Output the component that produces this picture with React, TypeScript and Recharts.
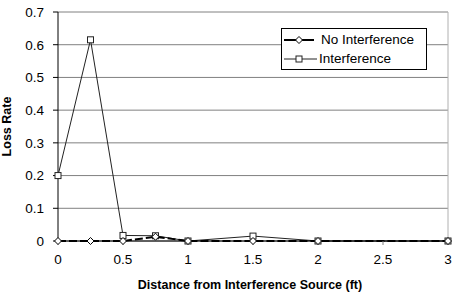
import { CartesianGrid, Label, Line, LineChart, ReferenceLine, XAxis, YAxis } from "recharts";

const distances = [0, 0.25, 0.5, 0.75, 1, 1.5, 2, 3];
const noInterference = [0, 0, 0, 0.013, 0, 0, 0, 0];
const interference = [0.2, 0.615, 0.017, 0.016, 0, 0.015, 0, 0];
const xTicks = [0, 0.5, 1, 1.5, 2, 2.5, 3];
const yTicks = [0, 0.1, 0.2, 0.3, 0.4, 0.5, 0.6, 0.7];

const data = distances.map((x, i) => ({ x, none: noInterference[i], intf: interference[i] }));

const font = "Arial, 'Liberation Sans', sans-serif";

function Diamond({ cx, cy }: { cx?: number; cy?: number }) {
  if (cx == null || cy == null) return null;
  const r = 3.5;
  return (
    <path
      d={`M${cx},${cy - r}L${cx + r},${cy}L${cx},${cy + r}L${cx - r},${cy}Z`}
      fill="#fff"
      stroke="#000"
      strokeWidth={1}
    />
  );
}

function Square({ cx, cy }: { cx?: number; cy?: number }) {
  if (cx == null || cy == null) return null;
  return <rect x={cx - 3} y={cy - 3} width={6} height={6} fill="#fff" stroke="#222" strokeWidth={1} />;
}

function LegendBox() {
  return (
    <div
      style={{
        position: "absolute",
        left: 281,
        top: 28,
        width: 146,
        height: 42,
        border: "1px solid #000",
        background: "#fff",
        fontFamily: font,
        fontSize: 13.5,
        boxSizing: "border-box",
        padding: "1px 0 0 1px",
        lineHeight: "normal",
      }}
    >
      <div style={{ display: "flex", alignItems: "center", height: 19 }}>
        <svg width={34} height={10}>
          <line x1={1} y1={5} x2={31} y2={5} stroke="#000" strokeWidth={2} />
          <Diamond cx={16} cy={5} />
        </svg>
        <span style={{ marginLeft: 4 }}>No Interference</span>
      </div>
      <div style={{ display: "flex", alignItems: "center", height: 19 }}>
        <svg width={34} height={10}>
          <line x1={1} y1={5} x2={34} y2={5} stroke="#222" strokeWidth={1} />
          <Square cx={16} cy={5} />
        </svg>
        <span style={{ marginLeft: 2 }}>Interference</span>
      </div>
    </div>
  );
}

export default function App() {
  return (
    <div style={{ position: "absolute", left: 0, top: 0, width: 452, height: 299, background: "#fff" }}>
      <LineChart width={452} height={299} data={data} margin={{ top: 12, right: 4, left: 0, bottom: 28 }}>
        <CartesianGrid horizontal vertical={false} stroke="#808080" strokeWidth={1} />
        <XAxis
          type="number"
          dataKey="x"
          domain={[0, 3]}
          ticks={xTicks}
          tickLine={{ stroke: "#808080" }}
          tickSize={4}
          tickMargin={9}
          axisLine={{ stroke: "#000" }}
          tick={{ fontSize: 13.5, fill: "#000", fontFamily: font }}
          height={30}
          interval={0}
        >
          <Label
            value="Distance from Interference Source (ft)"
            position="bottom"
            offset={9}
            dx={-3}
            style={{ fontSize: 12.5, fontWeight: "bold", fill: "#000", fontFamily: font }}
          />
        </XAxis>
        <YAxis
          domain={[0, 0.7]}
          ticks={yTicks}
          width={58}
          tickLine={{ stroke: "#000" }}
          tickSize={5}
          tickMargin={9}
          axisLine={{ stroke: "#000" }}
          tick={{ fontSize: 13.5, fill: "#000", fontFamily: font }}
          interval={0}
        >
          <Label
            value="Loss Rate"
            angle={-90}
            position="insideLeft"
            offset={7}
            style={{ fontSize: 12.5, fontWeight: "bold", fill: "#000", fontFamily: font, textAnchor: "middle" }}
          />
        </YAxis>
        <ReferenceLine x={3} stroke="#b0b0b0" />
        <Line
          dataKey="intf"
          name="Interference"
          stroke="#222"
          strokeWidth={1}
          dot={<Square />}
          activeDot={false}
          isAnimationActive={false}
        />
        <Line
          dataKey="none"
          name="No Interference"
          stroke="#000"
          strokeWidth={2}
          strokeDasharray="8 3"
          dot={<Diamond />}
          activeDot={false}
          isAnimationActive={false}
        />
      </LineChart>
      <LegendBox />
    </div>
  );
}
